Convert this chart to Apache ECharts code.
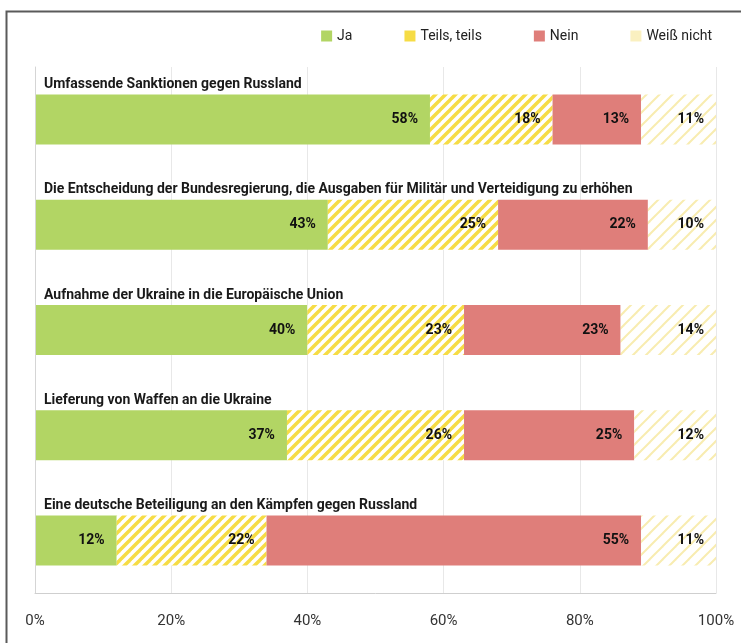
<!DOCTYPE html>
<html>
<head>
<meta charset="utf-8">
<title>Zustimmung Maßnahmen</title>
<script src="https://cdn.jsdelivr.net/npm/echarts@6/dist/echarts.min.js"></script>
<style>
  html, body { margin: 0; padding: 0; background: #fff; }
  #main { width: 741px; height: 643px; }
</style>
</head>
<body>
<div id="main"></div>
<script>
"use strict";

var questions = [
  "Umfassende Sanktionen gegen Russland",
  "Die Entscheidung der Bundesregierung, die Ausgaben für Militär und Verteidigung zu erhöhen",
  "Aufnahme der Ukraine in die Europäische Union",
  "Lieferung von Waffen an die Ukraine",
  "Eine deutsche Beteiligung an den Kämpfen gegen Russland",
];
var ja = [58, 43, 40, 37, 12];
var teils = [18, 25, 23, 26, 22];
var nein = [13, 22, 23, 25, 55];
var weissNicht = [11, 10, 14, 12, 11];
var xTicks = [0, 20, 40, 60, 80, 100];

// diagonal stripes on white
function stripes(color, period, lineWidth) {
  var c = document.createElement("canvas");
  c.width = period;
  c.height = period;
  var ctx = c.getContext("2d");
  ctx.fillStyle = "#fff";
  ctx.fillRect(0, 0, period, period);
  ctx.strokeStyle = color;
  ctx.lineWidth = lineWidth;
  for (var k = -1; k <= 1; k++) {
    ctx.beginPath();
    ctx.moveTo(k * period - 1, period + 1);
    ctx.lineTo(k * period + period + 1, -1);
    ctx.stroke();
  }
  return { image: c, repeat: "repeat" };
}

var font = "Roboto, 'Open Sans', sans-serif";
var valueLabel = {
  show: true,
  position: "insideRight",
  distance: 12,
  color: "#111",
  fontFamily: font,
  fontWeight: "bold",
  fontSize: 14,
  formatter: "{c}%",
};

var chartDom = document.getElementById("main");
var myChart = echarts.init(chartDom);
var option = {
  animation: false,
  graphic: [
    {
      type: "rect",
      left: 4,
      top: 9,
      shape: { width: 800, height: 700 },
      style: { fill: "none", stroke: "#5a5a5a", lineWidth: 2 },
      silent: true,
    },
  ],
  legend: {
    top: 24,
    right: 24,
    itemWidth: 11,
    itemHeight: 11,
    itemGap: 52,
    icon: "rect",
    textStyle: { fontFamily: font, fontSize: 14, color: "#222" },
    data: [
      { name: "Ja", itemStyle: { color: "#b2d564" }, textStyle: { padding: [0, 7, 0, 0] } },
      { name: "Teils, teils", itemStyle: { color: "#f6dc45" } },
      { name: "Nein", itemStyle: { color: "#df7e7a" } },
      { name: "Weiß nicht", itemStyle: { color: "#faf0c0" } },
    ],
  },
  grid: { left: 35, right: 25, top: 67, bottom: 50 },
  xAxis: {
    type: "value",
    min: 0,
    max: 100,
    interval: 20,
    axisLine: { show: true, lineStyle: { color: "#cfcfcf" } },
    axisTick: { show: false },
    splitLine: { lineStyle: { color: "#e8e8e8" } },
    axisLabel: {
      margin: 21,
      color: "#333",
      fontFamily: font,
      fontSize: 15,
      formatter: function (v) {
        return xTicks.indexOf(v) >= 0 ? v + "%" : "";
      },
    },
  },
  yAxis: {
    type: "category",
    inverse: true,
    data: questions,
    axisLine: { show: true, lineStyle: { color: "#d5d5d5" } },
    axisTick: { show: false },
    axisLabel: {
      inside: true,
      margin: 9,
      color: "#1a1a1a",
      fontFamily: font,
      fontWeight: "bold",
      fontSize: 14,
      // title sits above its bar
      verticalAlign: "bottom",
      lineHeight: 70,
    },
    z: 5,
  },
  series: [
    {
      name: "Ja",
      type: "bar",
      stack: "all",
      barWidth: 50,
      data: ja,
      itemStyle: { color: "#b2d564" },
      label: valueLabel,
    },
    {
      name: "Teils, teils",
      type: "bar",
      stack: "all",
      data: teils,
      itemStyle: { color: stripes("#f6dc45", 10, 3.5) },
      label: valueLabel,
    },
    {
      name: "Nein",
      type: "bar",
      stack: "all",
      data: nein,
      itemStyle: { color: "#df7e7a" },
      label: valueLabel,
    },
    {
      name: "Weiß nicht",
      type: "bar",
      stack: "all",
      data: weissNicht,
      itemStyle: { color: stripes("#f8ecb0", 13, 2) },
      label: valueLabel,
    },
  ],
};

option && myChart.setOption(option);
</script>
</body>
</html>
